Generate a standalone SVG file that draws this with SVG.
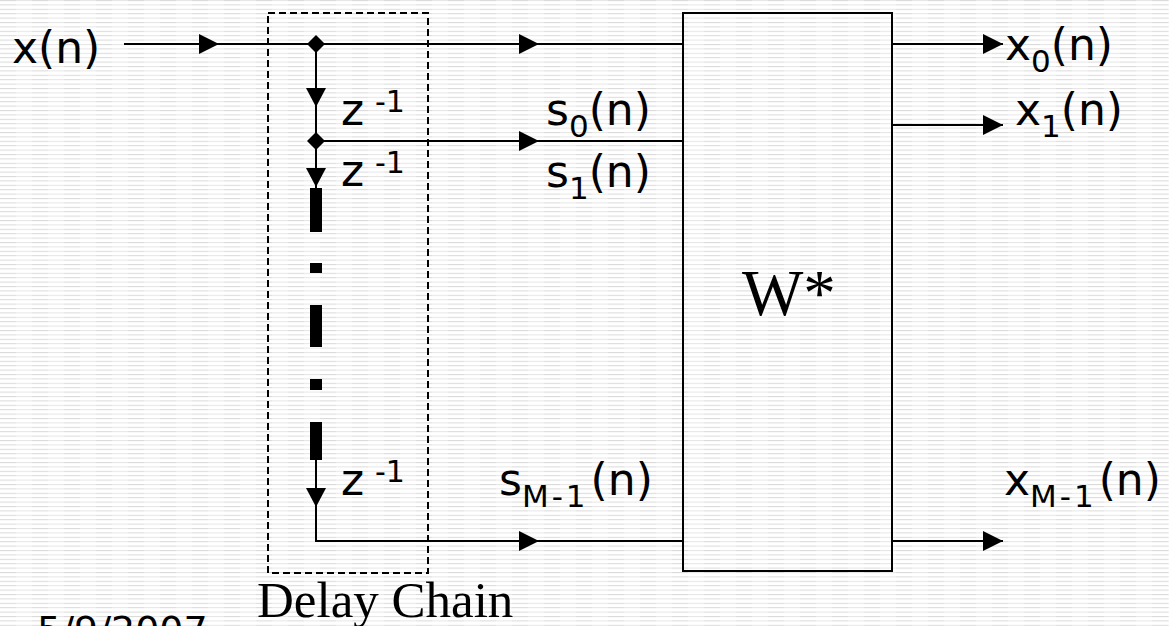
<svg xmlns="http://www.w3.org/2000/svg" width="1169" height="626" viewBox="0 0 1169 626">
  <defs>
    <pattern id="bg" x="0" y="0" width="32" height="4.4" patternUnits="userSpaceOnUse">
      <rect x="0" y="0" width="32" height="4.4" fill="#ffffff"/>
      <rect x="0" y="0" width="16" height="1" fill="#d9d9d9"/>
      <rect x="16" y="0" width="16" height="1" fill="#e6e6e6"/>
    </pattern>
    <path id="arrR" d="M-20,-10 L0,0 L-20,10 Z" fill="#000"/>
    <path id="arrD" d="M-10,-19 L10,-19 L0,0 Z" fill="#000"/>
    <path id="dia" d="M0,-9 L9,0 L0,9 L-9,0 Z" fill="#000"/>
  </defs>
  <style>
    .ln { stroke: #000; stroke-width: 2; fill: none; }
    .sans { font-family: "DejaVu Sans", Verdana, sans-serif; fill: #000; }
    .serif { font-family: "Liberation Serif", "Times New Roman", serif; fill: #000; }
    .main { font-size: 44px; }
    .sub { font-size: 31px; }
    .subw { font-size: 31px; letter-spacing: 3px; }
    .sup { font-size: 30px; }
  </style>
  <rect x="0" y="0" width="1169" height="626" fill="url(#bg)"/>

  <g id="connectors">
    <path class="ln" d="M124,44 H683"/>
    <path class="ln" d="M316,141 H683"/>
    <path class="ln" d="M316,44 V188"/>
    <path class="ln" d="M316,460 V541 H683"/>
    <path class="ln" d="M892,44 H1003"/>
    <path class="ln" d="M892,125 H1003"/>
    <path class="ln" d="M892,541 H1003"/>
    <use href="#arrR" x="219" y="44"/>
    <use href="#arrR" x="539" y="44"/>
    <use href="#arrR" x="539" y="141"/>
    <use href="#arrR" x="539" y="541"/>
    <use href="#arrR" x="1003" y="44"/>
    <use href="#arrR" x="1003" y="125"/>
    <use href="#arrR" x="1003" y="541"/>
    <use href="#arrD" x="316" y="107"/>
    <use href="#arrD" x="316" y="187"/>
    <use href="#arrD" x="316" y="507"/>
  </g>

  <g id="input">
    <text class="sans main" x="12" y="63">x(n)</text>
  </g>

  <g id="delay-chain">
    <rect x="268" y="13" width="160" height="560" fill="none" stroke="#000" stroke-width="2" stroke-dasharray="7 4"/>
    <use href="#dia" x="316" y="44"/>
    <use href="#dia" x="316" y="141"/>
    <rect x="310" y="188" width="12" height="44" fill="#000"/>
    <rect x="310" y="263" width="12" height="10" fill="#000"/>
    <rect x="310" y="305" width="12" height="42" fill="#000"/>
    <rect x="310" y="379" width="12" height="11" fill="#000"/>
    <rect x="310" y="422" width="12" height="38" fill="#000"/>
    <text class="sans main" x="341" y="125">z</text>
    <text class="sans sup" x="375" y="112">-1</text>
    <text class="sans main" x="341" y="186">z</text>
    <text class="sans sup" x="375" y="173">-1</text>
    <text class="sans main" x="341" y="495">z</text>
    <text class="sans sup" x="375" y="482">-1</text>
    <text class="serif" x="257" y="617" font-size="51">Delay Chain</text>
  </g>

  <g id="signals">
    <text class="sans main" x="546" y="125">s<tspan class="sub" dy="12">0</tspan><tspan dy="-12">(n)</tspan></text>
    <text class="sans main" x="546" y="187">s<tspan class="sub" dy="12">1</tspan><tspan dy="-12">(n)</tspan></text>
    <text class="sans main" x="499" y="495">s<tspan class="subw" dy="12">M-1</tspan><tspan dx="2" dy="-12">(n)</tspan></text>
  </g>

  <g id="W-box">
    <rect x="683" y="13" width="209" height="558" fill="none" stroke="#000" stroke-width="2"/>
    <text class="serif" x="742" y="315" font-size="65">W*</text>
  </g>

  <g id="outputs">
    <text class="sans main" x="1005" y="60">x<tspan class="sub" dy="12">0</tspan><tspan dy="-12">(n)</tspan></text>
    <text class="sans main" x="1015" y="125">x<tspan class="sub" dy="12">1</tspan><tspan dy="-12">(n)</tspan></text>
    <text class="sans main" x="1004" y="495">x<tspan class="subw" dy="12">M-1</tspan><tspan dx="2" dy="-12">(n)</tspan></text>
  </g>

  <g id="date">
    <text class="sans" x="37" y="643" font-size="38">5/9/2007</text>
  </g>
</svg>
